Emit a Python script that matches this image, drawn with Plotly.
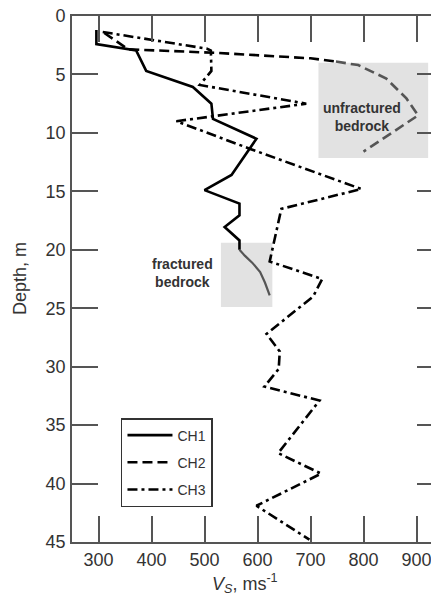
import plotly.graph_objects as go

# ---- data ----
ch1_vs = [296, 296, 371, 390, 478, 513, 516, 598, 551, 500, 566, 566, 538, 566, 566]
ch1_depth = [1.2, 2.4, 2.95, 4.7, 6.07, 7.5, 8.8, 10.5, 13.6, 14.9, 16.05, 17.05, 18.05, 19.2, 20.0]
ch1_frac_vs = [566, 576, 590, 605, 614, 623]
ch1_frac_depth = [20.0, 20.5, 21.1, 21.9, 22.8, 23.9]

ch2_vs = [311, 356, 520, 700, 748]
ch2_depth = [1.45, 2.85, 3.15, 3.62, 3.9]
ch2_unfrac_vs = [748, 790, 843, 881, 903, 800]
ch2_unfrac_depth = [3.9, 4.2, 5.35, 7.05, 8.5, 11.6]

ch3_vs = [308, 505, 512, 513, 491, 692, 447, 585, 796, 645, 623, 722, 705, 617, 642, 640, 613, 717, 639, 720, 598, 698]
ch3_depth = [1.37, 2.8, 2.95, 4.7, 5.9, 7.5, 9.0, 11.35, 14.8, 16.5, 21.0, 22.5, 24.0, 27.2, 28.7, 30.2, 31.7, 32.9, 37.4, 39.15, 41.9, 44.8]

unfrac_box_vs = [715, 922]
unfrac_box_depth = [4.0, 12.15]
frac_box_vs = [531, 628]
frac_box_depth = [19.4, 24.9]

x_ticks = [300, 400, 500, 600, 700, 800, 900]
y_ticks = [0, 5, 10, 15, 20, 25, 30, 35, 40, 45]

series_names = ["CH1", "CH2", "CH3"]

FONT = "Liberation Sans, Arial, sans-serif"
TXT = "#333333"
AX = "#555555"

fig = go.Figure()

fig.add_trace(go.Scatter(x=ch1_vs, y=ch1_depth, mode="lines", name=series_names[0],
                         legendgroup="a",
                         line=dict(color="black", width=2.6)))
fig.add_trace(go.Scatter(x=ch1_frac_vs, y=ch1_frac_depth, mode="lines",
                         showlegend=False, line=dict(color="#555555", width=2.2)))
fig.add_trace(go.Scatter(x=ch2_vs, y=ch2_depth, mode="lines", name=series_names[1],
                         legendgroup="b",
                         line=dict(color="black", width=2.6, dash="10px,5px")))
fig.add_trace(go.Scatter(x=ch2_unfrac_vs, y=ch2_unfrac_depth, mode="lines",
                         showlegend=False,
                         line=dict(color="#555555", width=2.6, dash="10px,5px")))
fig.add_trace(go.Scatter(x=ch3_vs, y=ch3_depth, mode="lines", name=series_names[2],
                         legendgroup="c",
                         line=dict(color="black", width=2.6, dash="10px,4px,3px,4px")))

fig.add_shape(type="rect", xref="x", yref="y",
              x0=unfrac_box_vs[0], x1=unfrac_box_vs[1],
              y0=unfrac_box_depth[0], y1=unfrac_box_depth[1],
              fillcolor="#e2e2e2", line=dict(width=0), layer="below")
fig.add_shape(type="rect", xref="x", yref="y",
              x0=frac_box_vs[0], x1=frac_box_vs[1],
              y0=frac_box_depth[0], y1=frac_box_depth[1],
              fillcolor="#e2e2e2", line=dict(width=0), layer="below")

fig.add_annotation(x=798, y=8.65, xref="x", yref="y", text="<b>unfractured<br>bedrock</b>",
                   showarrow=False, font=dict(family=FONT, size=14, color=TXT))
fig.add_annotation(x=458, y=22.0, xref="x", yref="y", text="<b>fractured<br>bedrock</b>",
                   showarrow=False, font=dict(family=FONT, size=14, color=TXT))

fig.add_annotation(x=0.466, y=-0.078, xref="paper", yref="paper",
                   text="<i>V<sub>S</sub></i>, ms<sup>-1</sup>", showarrow=False,
                   xanchor="center", yanchor="middle",
                   font=dict(family=FONT, size=18, color=TXT))
fig.add_annotation(x=-0.140, y=0.5, xref="paper", yref="paper",
                   text="Depth, m", textangle=-90, showarrow=False,
                   xanchor="center", yanchor="middle",
                   font=dict(family=FONT, size=18, color=TXT))

fig.update_xaxes(range=[250, 950], tickvals=x_ticks, ticks="inside", ticklen=26,
                 tickwidth=1.6, tickcolor=AX, showline=True, linecolor=AX, linewidth=1.8,
                 mirror="ticks", showgrid=False, zeroline=False, ticklabelstandoff=0,
                 ticklabeloverflow="allow", automargin=False,
                 tickfont=dict(family=FONT, size=18, color=TXT))
fig.update_yaxes(range=[45, 0], tickvals=y_ticks, ticks="inside", ticklen=26,
                 tickwidth=1.6, tickcolor=AX, showline=True, linecolor=AX, linewidth=1.8,
                 mirror="ticks", showgrid=False, zeroline=False, ticklabelstandoff=1,
                 ticklabeloverflow="allow", automargin=False,
                 tickfont=dict(family=FONT, size=18, color=TXT))

fig.update_layout(
    width=439, height=610,
    margin=dict(l=64, r=4, t=8, b=76, autoexpand=False),
    paper_bgcolor="white", plot_bgcolor="white",
    showlegend=True,
    legend=dict(x=0.132, y=0.2357, xanchor="left", yanchor="top",
                bgcolor="white", bordercolor="#333333", borderwidth=1.5,
                tracegroupgap=6, itemwidth=45,
                font=dict(family=FONT, size=14, color=TXT)),
)

fig.write_html("out.html")
